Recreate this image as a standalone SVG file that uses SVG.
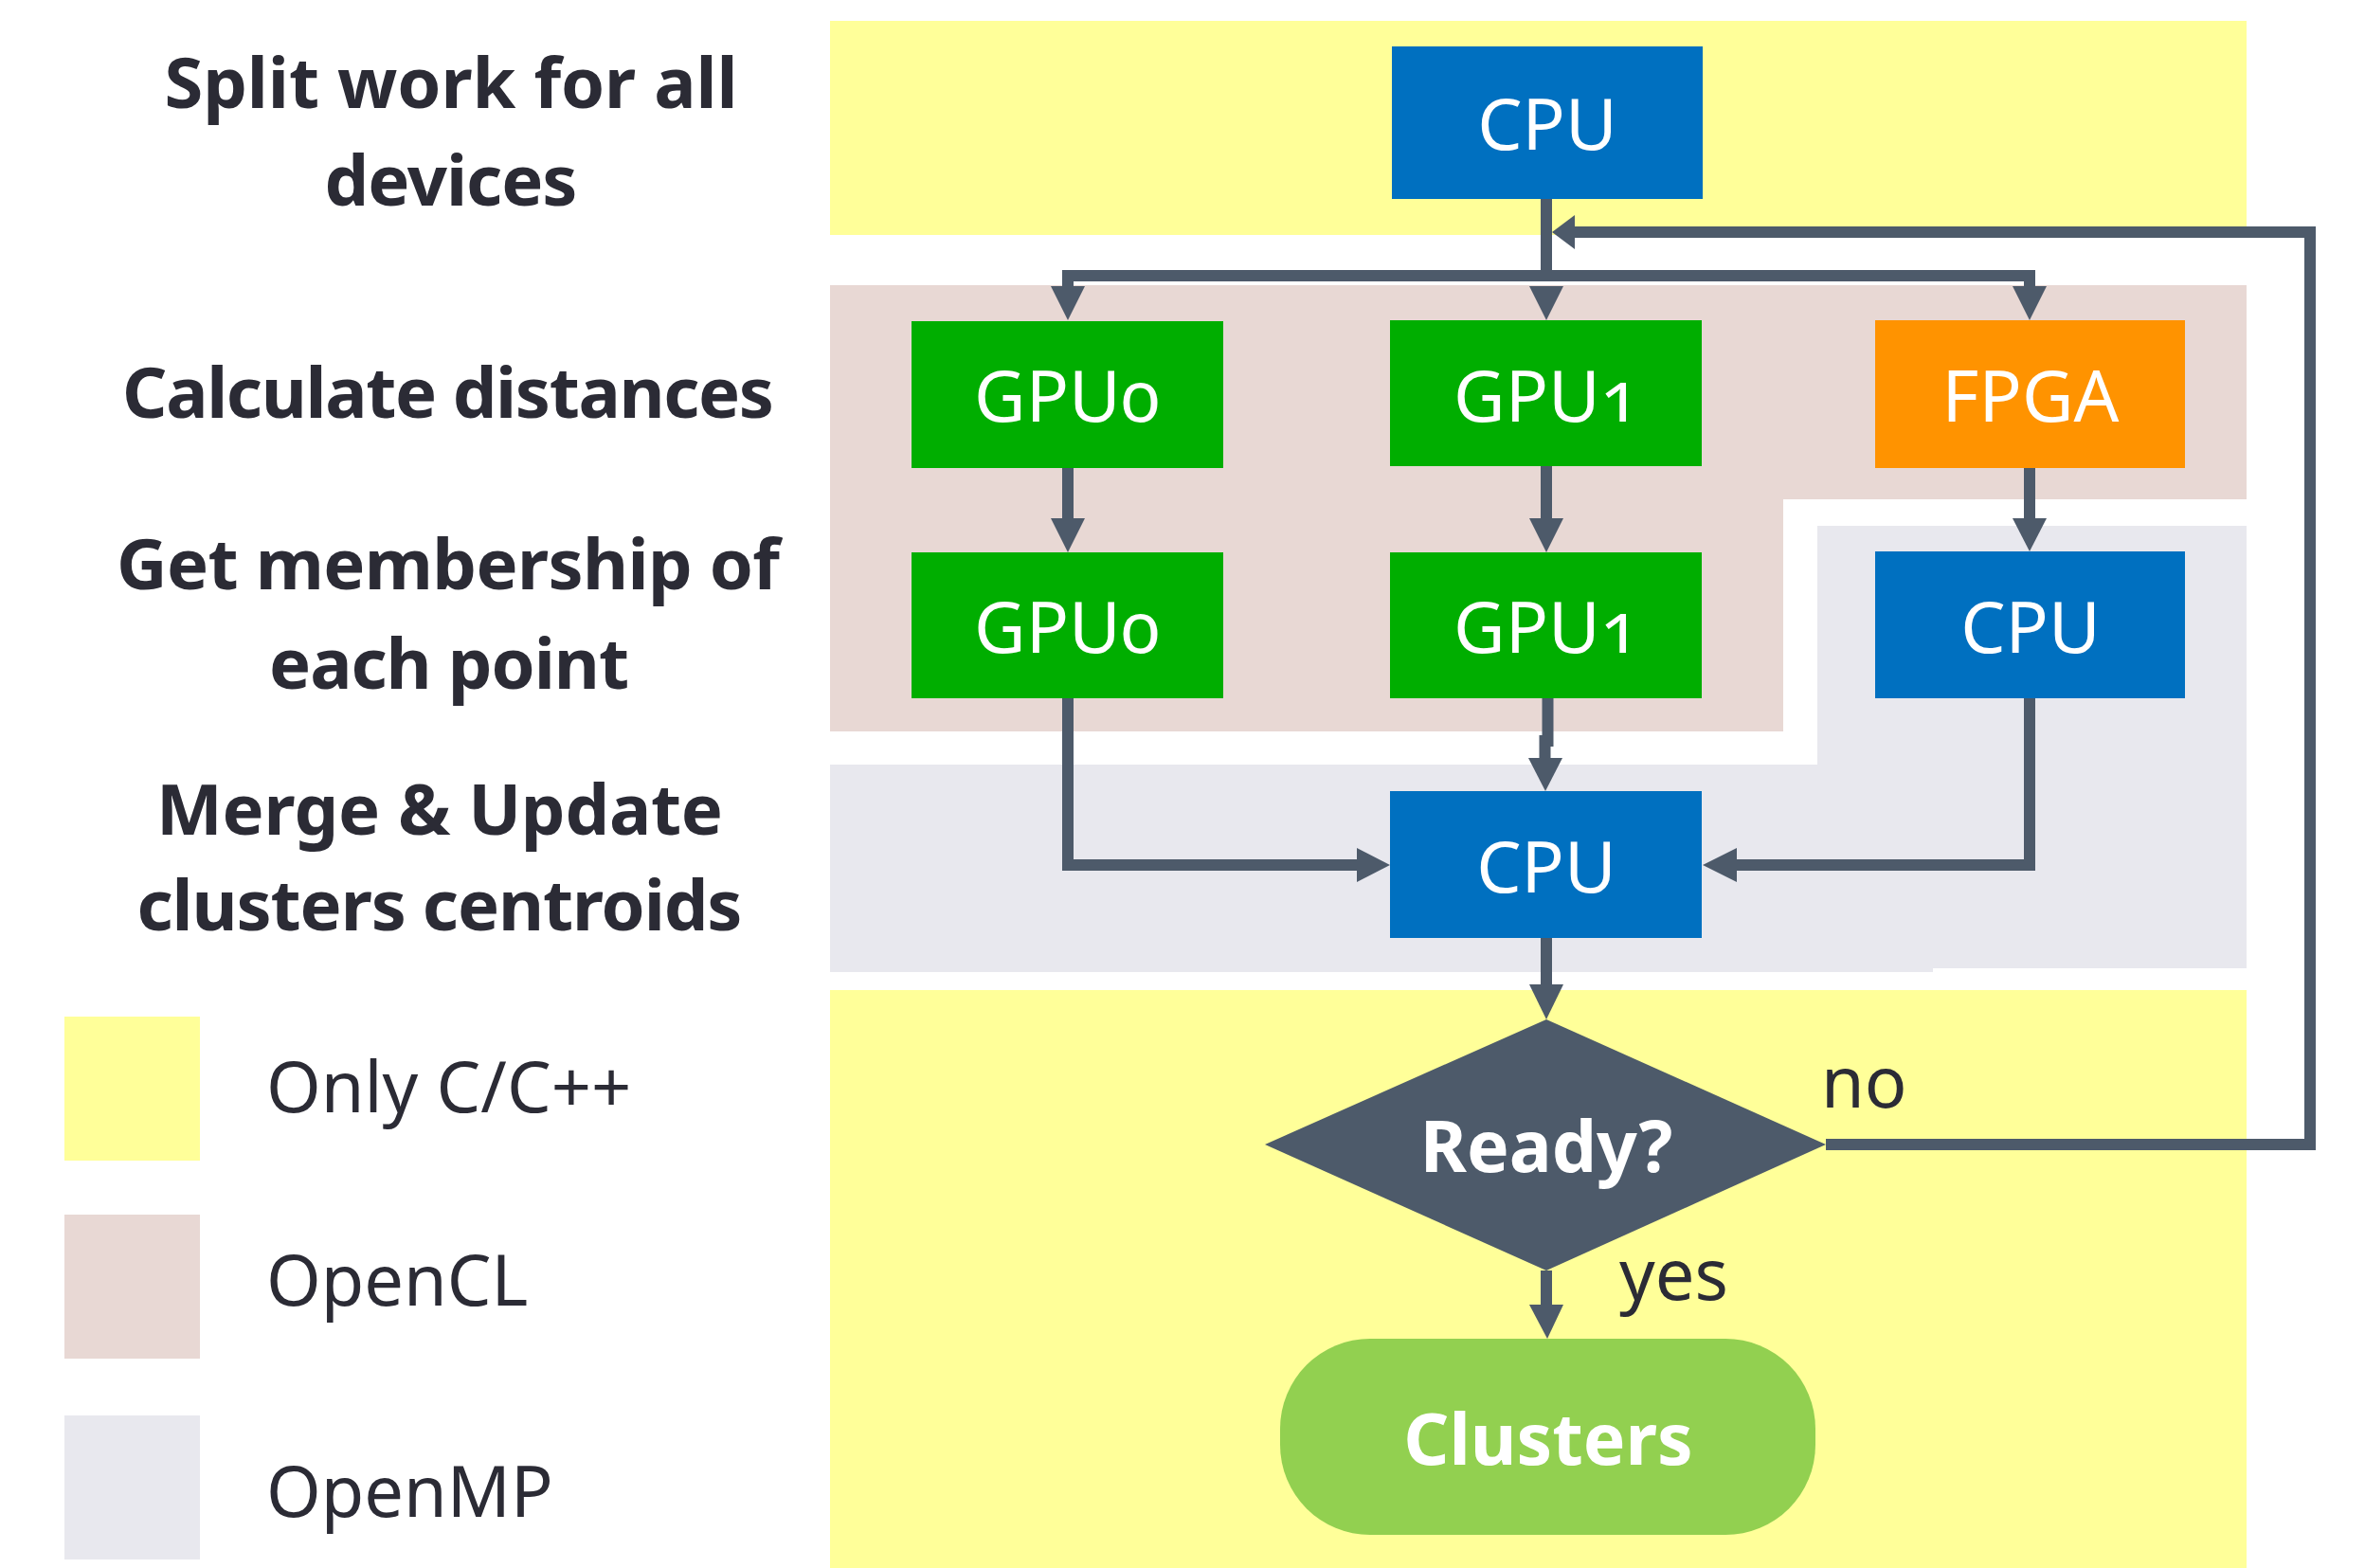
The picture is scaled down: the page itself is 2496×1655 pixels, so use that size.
<svg xmlns="http://www.w3.org/2000/svg" width="2496" height="1655" viewBox="0 0 2496 1655">
  <defs>
    <style>
      .lbl { font-family: "Noto Sans", "Open Sans", "Liberation Sans", sans-serif; font-size: 74px; fill: #2b2b35; }
      .b { font-weight: bold; }
      .node { font-family: "Noto Sans", "Open Sans", "Liberation Sans", sans-serif; font-size: 75px; fill: #ffffff; text-anchor: middle; font-feature-settings: "onum" 1; font-variant-numeric: oldstyle-nums; }
      .wire { fill: none; stroke: #4d5a6a; stroke-width: 12; stroke-linejoin: miter; }
      .head { fill: #4d5a6a; }
      .cpu { fill: #0070c0; }
      .gpu { fill: #00ae00; }
      .fpga { fill: #ff9300; }
    </style>
  </defs>

  <rect width="2496" height="1655" fill="#ffffff"/>

  <!-- API regions -->
  <g id="regions">
    <rect x="876" y="22" width="1495" height="226" fill="#ffff99"/>
    <path d="M876 301 H2371 V527 H1882 V772 H876 Z" fill="#e8d8d4"/>
    <path d="M1918 555 H2371 V1022 H2040 V1026 H876 V807 H1918 Z" fill="#e8e8ee"/>
    <rect x="876" y="1045" width="1495" height="610" fill="#ffff99"/>
  </g>

  <!-- stage labels -->
  <g id="stage-labels" class="lbl b" text-anchor="middle">
    <text x="476" y="114" textLength="605">Split work for all</text>
    <text x="476" y="217" textLength="267">devices</text>
    <text x="473" y="441" textLength="688">Calculate distances</text>
    <text x="473" y="622" textLength="700">Get membership of</text>
    <text x="474" y="727" textLength="380">each point</text>
    <text x="464" y="881" textLength="598">Merge &amp; Update</text>
    <text x="464" y="982" textLength="639">clusters centroids</text>
  </g>

  <!-- legend -->
  <g id="legend">
    <rect x="68" y="1073" width="143" height="152" fill="#ffff99"/>
    <rect x="68" y="1282" width="143" height="152" fill="#e8d8d4"/>
    <rect x="68" y="1494" width="143" height="152" fill="#e8e8ee"/>
    <text class="lbl" x="281" y="1174">Only C/C++</text>
    <text class="lbl" x="281" y="1378">OpenCL</text>
    <text class="lbl" x="281" y="1601">OpenMP</text>
  </g>

  <!-- connectors -->
  <g id="connectors">
    <!-- split to devices -->
    <path class="wire" d="M1632 210 V291"/>
    <path class="wire" d="M1127 303 V291 H2142 V303"/>
    <polygon class="head" points="1109,302 1145,302 1127,338"/>
    <polygon class="head" points="1614,302 1650,302 1632,338"/>
    <polygon class="head" points="2124,302 2160,302 2142,338"/>
    <!-- distances to membership -->
    <path class="wire" d="M1127 494 V548"/>
    <polygon class="head" points="1109,547 1145,547 1127,583"/>
    <path class="wire" d="M1632 492 V548"/>
    <polygon class="head" points="1614,547 1650,547 1632,583"/>
    <path class="wire" d="M2142 494 V548"/>
    <polygon class="head" points="2124,547 2160,547 2142,582"/>
    <!-- membership to merge -->
    <path class="wire" d="M1633.5 737 V782 H1630.5 V802"/>
    <polygon class="head" points="1613,800 1649,800 1631,835"/>
    <path class="wire" d="M1127 737 V913 H1433"/>
    <polygon class="head" points="1432,895 1432,931 1467,913"/>
    <path class="wire" d="M2142 737 V913 H1832"/>
    <polygon class="head" points="1833,895 1833,931 1797,913"/>
    <!-- merge to decision -->
    <path class="wire" d="M1632 990 V1040"/>
    <polygon class="head" points="1614,1039 1650,1039 1632,1076"/>
    <!-- decision: yes -->
    <path class="wire" d="M1632 1341 V1378"/>
    <polygon class="head" points="1614,1377 1650,1377 1633,1413"/>
    <!-- decision: no, back to split -->
    <path class="wire" d="M1927 1208 H2438 V245 H1660"/>
    <polygon class="head" points="1662,227 1662,263 1638,245"/>
  </g>

  <!-- nodes -->
  <g id="split-cpu">
    <rect class="cpu" x="1469" y="49" width="328" height="161"/>
    <text class="node" x="1633" y="158">CPU</text>
  </g>
  <g id="dist-gpu0">
    <rect class="gpu" x="962" y="339" width="329" height="155"/>
    <text class="node" x="1126" y="445">GPU0</text>
  </g>
  <g id="dist-gpu1">
    <rect class="gpu" x="1467" y="338" width="329" height="154"/>
    <text class="node" x="1632" y="445">GPU1</text>
  </g>
  <g id="dist-fpga">
    <rect class="fpga" x="1979" y="338" width="327" height="156"/>
    <text class="node" x="2143" y="445">FPGA</text>
  </g>
  <g id="member-gpu0">
    <rect class="gpu" x="962" y="583" width="329" height="154"/>
    <text class="node" x="1126" y="689">GPU0</text>
  </g>
  <g id="member-gpu1">
    <rect class="gpu" x="1467" y="583" width="329" height="154"/>
    <text class="node" x="1632" y="689">GPU1</text>
  </g>
  <g id="member-cpu">
    <rect class="cpu" x="1979" y="582" width="327" height="155"/>
    <text class="node" x="2143" y="689">CPU</text>
  </g>
  <g id="merge-cpu">
    <rect class="cpu" x="1467" y="835" width="329" height="155"/>
    <text class="node" x="1632" y="942">CPU</text>
  </g>
  <g id="ready">
    <polygon points="1632,1076 1927,1208 1632,1341 1335,1208" fill="#4d5a6a"/>
    <text class="node b" x="1632" y="1237" font-weight="bold">Ready?</text>
  </g>
  <g id="branch-labels" class="lbl">
    <text x="1922" y="1169">no</text>
    <text x="1709" y="1372">yes</text>
  </g>
  <g id="clusters">
    <rect x="1351" y="1413" width="565" height="207" rx="95" ry="95" fill="#92d050"/>
    <text class="node" x="1634" y="1546" font-weight="bold">Clusters</text>
  </g>
</svg>
